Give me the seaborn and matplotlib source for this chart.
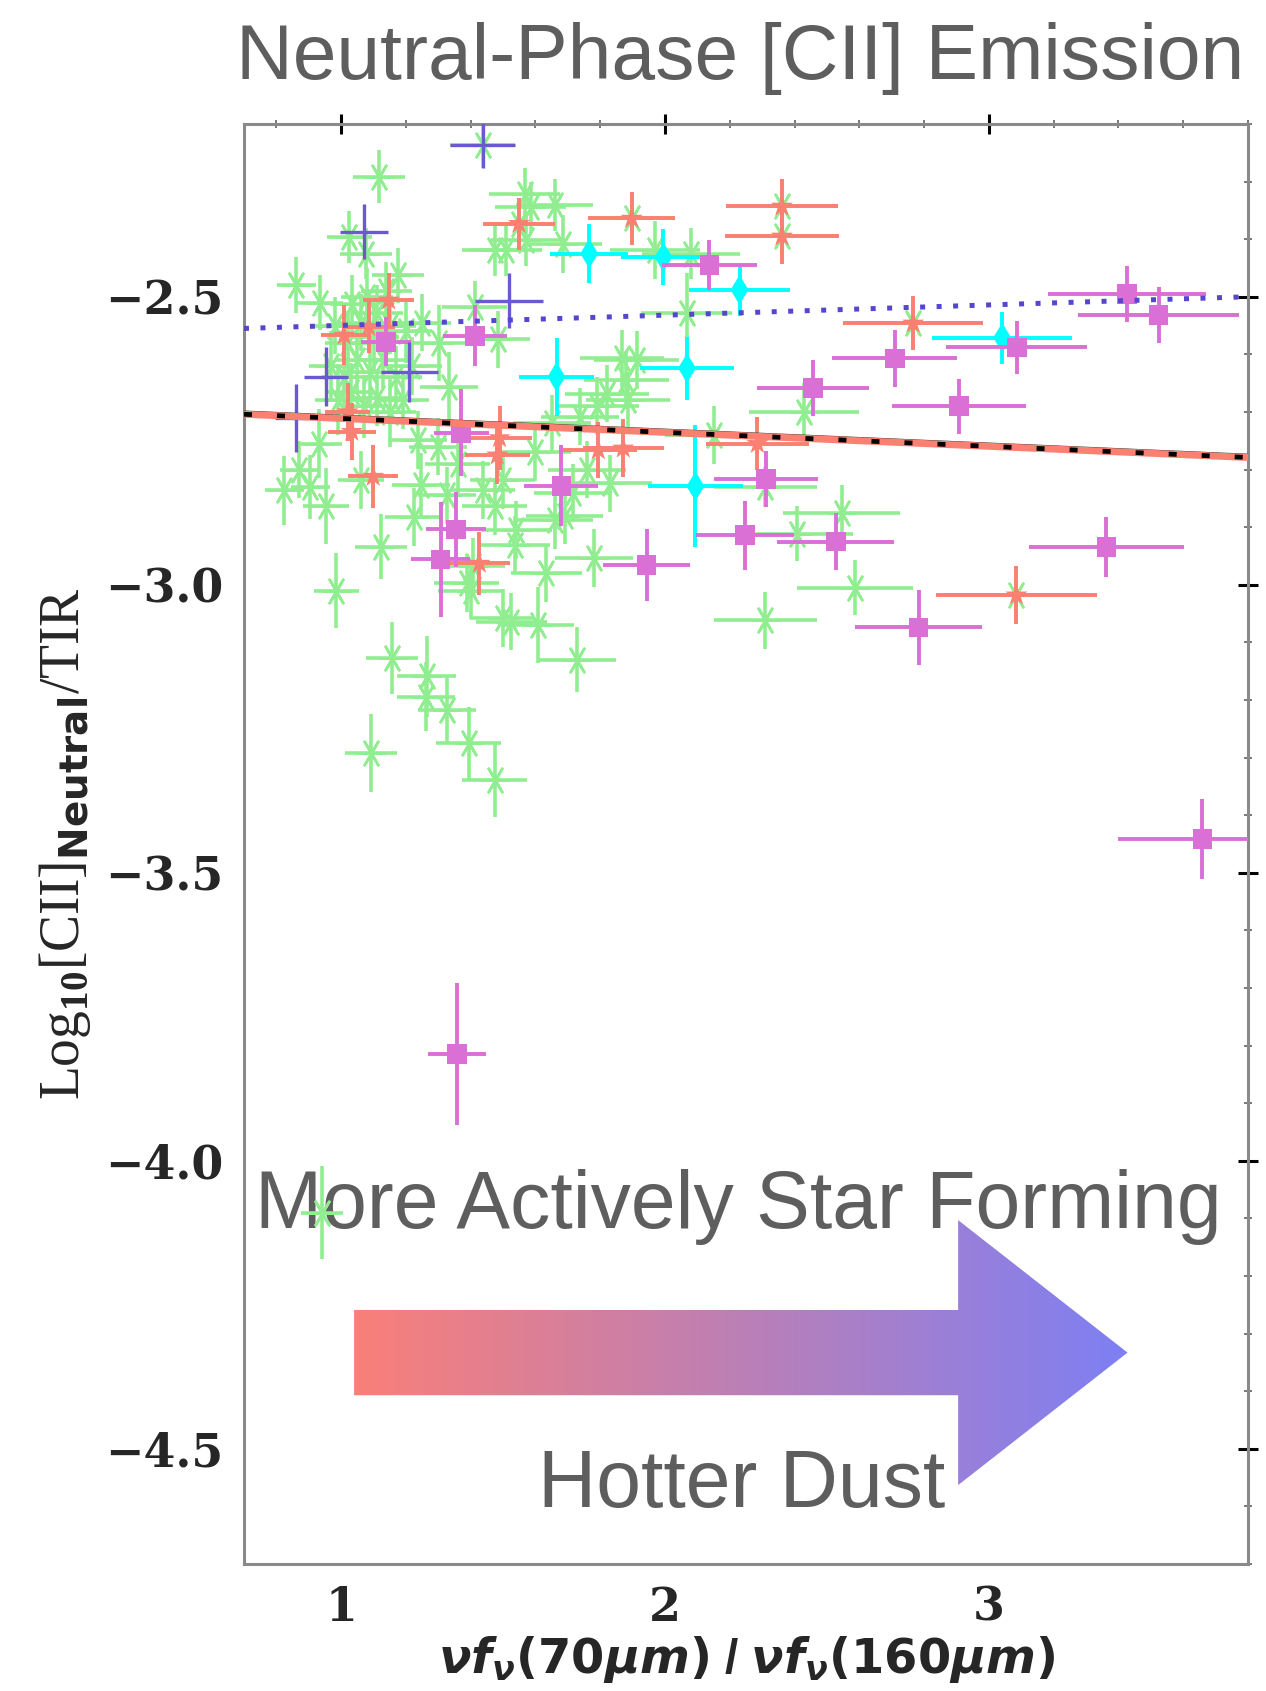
import numpy as np
import pandas as pd
import matplotlib
matplotlib.use("Agg")
import matplotlib.pyplot as plt
import seaborn as sns
from matplotlib.patches import Polygon
from matplotlib.colors import LinearSegmentedColormap
from matplotlib.ticker import MultipleLocator, FixedLocator, FixedFormatter

# ---------------------------------------------------------------- data
# Sample A (light green asterisks)
green_x = [1.116, 1.437, 0.862, 1.025, 1.076, 1.176, 0.935, 1.035, 1.112, 1.303, 1.412, 1.484, 1.567, 1.585,
           1.659, 1.474, 1.510, 1.572, 1.685, 1.549, 1.897, 2.361, 2.361, 1.969, 2.080, 2.067, 1.866, 1.912,
           1.881, 1.820, 1.886, 1.737, 1.790, 2.150, 2.430, 2.766, 2.310, 2.545, 2.409, 2.586, 2.310, 3.085, 0.941,
           0.98, 1.02, 1.06, 1.10, 1.15, 1.20, 1.25, 0.97, 1.01, 1.05, 1.09, 1.13, 1.17, 1.22, 0.99, 1.03,
           1.07, 1.11, 1.15, 1.19, 1.08, 1.14, 1.334,
           0.824, 0.870, 0.953, 0.932, 0.905, 1.123, 0.985, 1.226, 1.247, 1.236, 1.061, 1.157, 1.264, 1.262,
           1.326, 1.394, 1.474, 1.092, 1.388, 1.400, 1.499, 1.525, 1.608, 1.729, 1.634, 1.780, 1.536, 1.474,
           1.499, 1.830, 1.690, 1.437, 1.541, 1.716, 1.659, 1.407, 1.327, 1.30, 1.36, 1.60, 1.65, 1.76]
green_y = [-2.292, -2.237, -2.480, -2.396, -2.425, -2.463, -2.510, -2.512, -2.529, -2.581, -2.518, -2.574, -2.321, -2.345,
           -2.340, -2.419, -2.419, -2.402, -2.408, -2.373, -2.364, -2.343, -2.395, -2.419, -2.425, -2.529, -2.607, -2.610,
           -2.645, -2.668, -2.680, -2.708, -2.690, -2.740, -2.700, -2.546, -2.830, -2.875, -2.911, -3.005, -3.062, -3.018, -4.090,
           -2.55, -2.58, -2.545, -2.57, -2.55, -2.56, -2.545, -2.62, -2.64, -2.61, -2.63, -2.61, -2.64, -2.62, -2.68, -2.665,
           -2.69, -2.675, -2.70, -2.68, -2.50, -2.49, -2.656,
           -2.836, -2.800, -2.864, -2.755, -2.830, -2.934, -3.010, -2.882, -2.827, -2.749, -2.818, -3.127, -3.159, -3.194,
           -3.217, -3.275, -3.339, -3.292, -2.997, -3.010, -3.058, -3.064, -3.070, -3.130, -2.980, -2.954, -2.931, -2.864,
           -2.818, -2.824, -2.880, -2.835, -2.905, -2.841, -2.888, -2.968, -2.845, -2.76, -2.79, -2.77, -2.72, -2.80]
green_xerr = [0.08, 0.10, 0.06, 0.07, 0.08, 0.08, 0.07, 0.07, 0.08, 0.09, 0.10, 0.10, 0.11, 0.11,
              0.12, 0.10, 0.11, 0.11, 0.12, 0.11, 0.13, 0.17, 0.17, 0.14, 0.15, 0.14, 0.13, 0.13,
              0.13, 0.13, 0.13, 0.12, 0.13, 0.15, 0.17, 0.19, 0.16, 0.18, 0.17, 0.18, 0.16, 0.22, 0.065,
              0.07, 0.07, 0.07, 0.08, 0.08, 0.08, 0.09, 0.07, 0.07, 0.07, 0.08, 0.08, 0.08, 0.09, 0.07, 0.07,
              0.07, 0.08, 0.08, 0.08, 0.08, 0.08, 0.09,
              0.06, 0.06, 0.07, 0.07, 0.06, 0.08, 0.07, 0.09, 0.09, 0.09, 0.07, 0.08, 0.09, 0.09,
              0.09, 0.10, 0.10, 0.08, 0.10, 0.10, 0.10, 0.11, 0.11, 0.12, 0.11, 0.12, 0.11, 0.10,
              0.10, 0.13, 0.12, 0.10, 0.11, 0.12, 0.12, 0.10, 0.09, 0.09, 0.10, 0.11, 0.12, 0.12]
green_yerr = [0.046, 0.040, 0.049, 0.045, 0.045, 0.047, 0.048, 0.050, 0.050, 0.066, 0.045, 0.050, 0.045, 0.045,
              0.045, 0.045, 0.045, 0.045, 0.050, 0.045, 0.045, 0.047, 0.049, 0.050, 0.045, 0.070, 0.050, 0.050,
              0.050, 0.050, 0.050, 0.050, 0.050, 0.050, 0.050, 0.045, 0.035, 0.048, 0.048, 0.048, 0.050, 0.050, 0.081,
              0.050, 0.055, 0.050, 0.060, 0.050, 0.055, 0.050, 0.060, 0.050, 0.055, 0.060, 0.050, 0.055, 0.050,
              0.060, 0.050, 0.055, 0.050, 0.060, 0.050, 0.050, 0.050, 0.060,
              0.060, 0.050, 0.066, 0.060, 0.055, 0.056, 0.065, 0.050, 0.055, 0.050, 0.050, 0.062, 0.070, 0.060,
              0.060, 0.062, 0.064, 0.068, 0.050, 0.050, 0.050, 0.050, 0.066, 0.056, 0.050, 0.050, 0.050, 0.050,
              0.050, 0.050, 0.050, 0.050, 0.050, 0.050, 0.050, 0.050, 0.050, 0.050, 0.050, 0.050, 0.050, 0.050]

# Sample B (salmon stars)
salmon_x = [1.549, 1.897, 2.361, 2.361, 1.147, 1.085, 1.009, 2.766, 1.020, 1.033, 1.099, 1.489, 1.482,
            1.794, 1.871, 2.285, 3.085, 1.427]
salmon_y = [-2.373, -2.364, -2.343, -2.395, -2.506, -2.552, -2.567, -2.546, -2.700, -2.734, -2.812, -2.745, -2.775,
            -2.766, -2.763, -2.755, -3.018, -2.963]
salmon_xerr = [0.110, 0.134, 0.173, 0.176, 0.078, 0.080, 0.070, 0.215, 0.070, 0.075, 0.077, 0.100, 0.100,
               0.120, 0.125, 0.160, 0.248, 0.095]
salmon_yerr = [0.045, 0.046, 0.047, 0.049, 0.047, 0.045, 0.052, 0.047, 0.050, 0.050, 0.055, 0.055, 0.050,
               0.049, 0.050, 0.046, 0.050, 0.055]

# Sample C (cyan diamonds)
cyan_x = [1.766, 1.995, 2.230, 1.665, 2.068, 2.094, 3.041]
cyan_y = [-2.425, -2.431, -2.488, -2.639, -2.624, -2.829, -2.571]
cyan_xerr = [0.120, 0.130, 0.157, 0.117, 0.144, 0.147, 0.217]
cyan_yerr = [0.051, 0.049, 0.045, 0.068, 0.055, 0.106, 0.045]

# Sample D (orchid squares)
orchid_x = [2.137, 3.426, 3.524, 3.086, 2.710, 2.456, 2.907, 2.312, 1.138, 1.414, 1.371, 1.680, 1.355,
            1.307, 1.943, 2.247, 2.527, 3.363, 2.783, 3.659, 1.357]
orchid_y = [-2.445, -2.495, -2.532, -2.588, -2.607, -2.658, -2.690, -2.816, -2.578, -2.568, -2.736, -2.828, -2.904,
            -2.956, -2.966, -2.914, -2.925, -2.934, -3.074, -3.441, -3.815]
orchid_xerr = [0.147, 0.243, 0.248, 0.217, 0.193, 0.173, 0.206, 0.160, 0.078, 0.098, 0.085, 0.114, 0.093,
               0.090, 0.134, 0.150, 0.180, 0.238, 0.196, 0.260, 0.090]
orchid_yerr = [0.043, 0.048, 0.049, 0.046, 0.050, 0.049, 0.048, 0.049, 0.043, 0.053, 0.075, 0.070, 0.065,
               0.100, 0.062, 0.060, 0.050, 0.052, 0.065, 0.069, 0.123]

# Sample E (slate-blue crosses)
blue_x = [1.437, 1.071, 1.518, 0.953, 1.210, 0.860]
blue_y = [-2.237, -2.387, -2.507, -2.639, -2.630, -2.711]
blue_xerr = [0.100, 0.074, 0.106, 0.067, 0.088, 0.065]
blue_yerr = [0.040, 0.048, 0.048, 0.051, 0.052, 0.059]

# Linear fits (end points over the plotted range)
fit_x = [0.70, 3.80]
fit_blue_y = [-2.555, -2.500]
fit_all_y = [-2.704, -2.779]

# ---------------------------------------------------------------- style
sns.set_style("white")
plt.rcParams.update({
    "font.family": ["Liberation Sans", "DejaVu Sans"],
    "mathtext.fontset": "cm",
    "mathtext.rm": "Liberation Serif",
    "mathtext.it": "DejaVu Sans:italic:bold",
    "mathtext.bf": "Liberation Serif:bold",
    "mathtext.sf": "DejaVu Sans:bold",
})

frames = []
for name, xs, ys, xe, ye in [
    ("A", green_x, green_y, green_xerr, green_yerr),
    ("B", salmon_x, salmon_y, salmon_xerr, salmon_yerr),
    ("C", cyan_x, cyan_y, cyan_xerr, cyan_yerr),
    ("D", orchid_x, orchid_y, orchid_xerr, orchid_yerr),
    ("E", blue_x, blue_y, blue_xerr, blue_yerr),
]:
    frames.append(pd.DataFrame({"sample": name, "x": xs, "y": ys, "xerr": xe, "yerr": ye}))
df = pd.concat(frames, ignore_index=True)

styles = {
    "A": dict(color="#90EE90", marker=(6, 2, 90), s=380, lw=1.9, elw=2.6, z=2),
    "B": dict(color="#FA8072", marker="*", s=280, lw=0, elw=2.8, z=3),
    "C": dict(color="#00FFFF", marker="d", s=230, lw=0, elw=2.8, z=3.2),
    "D": dict(color="#DA70D6", marker="s", s=200, lw=0, elw=2.8, z=3.4),
    "E": dict(color="#6A5ACD", marker="+", s=120, lw=2.2, elw=2.4, z=3.6),
}

fig = plt.figure(figsize=(12.66, 16.91), dpi=100)
ax = fig.add_axes([0.1927, 0.0751, 0.7931, 0.8516])

for name, st in styles.items():
    sub = df[df["sample"] == name]
    ax.errorbar(sub["x"], sub["y"], xerr=sub["xerr"], yerr=sub["yerr"], fmt="none",
                ecolor=st["color"], elinewidth=st["elw"], capsize=0, zorder=st["z"])
    kw = dict(data=sub, x="x", y="y", marker=st["marker"], s=st["s"], color=st["color"],
              ax=ax, zorder=st["z"] + 0.05, legend=False)
    if st["lw"] > 0:
        kw["linewidth"] = st["lw"]
    else:
        kw["linewidth"] = 0
        kw["edgecolor"] = "none"
    sns.scatterplot(**kw)

# fit lines
sns.lineplot(x=fit_x, y=fit_blue_y, color="#5546CF", linewidth=3.6, linestyle=(0, (1, 2.3)),
             ax=ax, zorder=6, sort=False, estimator=None)
sns.lineplot(x=fit_x, y=[v + 0.005 for v in fit_all_y], color="#333333", linewidth=1.3,
             ax=ax, zorder=5.8, sort=False, estimator=None)
sns.lineplot(x=fit_x, y=fit_all_y, color="#FA8072", linewidth=5.0, ax=ax, zorder=5.9,
             sort=False, estimator=None)
sns.lineplot(x=fit_x, y=fit_all_y, color="black", linewidth=3.4, linestyle=(0, (1.7, 5.3)),
             ax=ax, zorder=6, sort=False, estimator=None)

# gradient arrow
arrow_pts = [(1.04, -4.259), (2.905, -4.259), (2.905, -4.103), (3.428, -4.333),
             (2.905, -4.563), (2.905, -4.407), (1.04, -4.407)]
poly = Polygon(arrow_pts, closed=True, facecolor="none", edgecolor="none", transform=ax.transData)
ax.add_patch(poly)
cmap = LinearSegmentedColormap.from_list("heat", ["#F97F79", "#7E80F3"])
grad = ax.imshow(np.linspace(0, 1, 256)[None, :], extent=[1.04, 3.428, -4.563, -4.103],
                 aspect="auto", origin="lower", cmap=cmap, zorder=1.5, interpolation="bicubic")
grad.set_clip_path(poly)

text_kw = dict(ha="center", va="baseline", fontsize=58, color="#5e5e5e", family="Liberation Sans", zorder=1.6)
ax.text(2.226, -4.116, "More Actively Star Forming", **text_kw)
ax.text(2.238, -4.601, "Hotter Dust", **text_kw)

ax.set_xlim(0.70, 3.80)
ax.set_ylim(-4.70, -2.20)

# axes, ticks and labels
xt = [1, 2, 3]
yt = [-4.5, -4.0, -3.5, -3.0, -2.5]
ax.xaxis.set_major_locator(FixedLocator(xt))
ax.xaxis.set_major_formatter(FixedFormatter(["%d" % v for v in xt]))
ax.yaxis.set_major_locator(FixedLocator(yt))
ax.yaxis.set_major_formatter(FixedFormatter(["\u2212%.1f" % abs(v) for v in yt]))
ax.xaxis.set_minor_locator(MultipleLocator(0.2))
ax.yaxis.set_minor_locator(MultipleLocator(0.1))
ax.tick_params(which="major", direction="inout", length=14, width=2.2, color="black",
               top=True, right=True, labelsize=33, pad=8)
ax.tick_params(which="minor", direction="inout", length=6, width=1.1, color="#555555",
               top=True, right=True)
for lbl in ax.get_xticklabels() + ax.get_yticklabels():
    lbl.set_fontfamily("DejaVu Serif")
    lbl.set_fontweight("bold")
for sp in ax.spines.values():
    sp.set_color("#8a8a8a")
    sp.set_linewidth(2.2)

ax.set_xlabel(r"$\nu f_{\nu}\mathsf{(70}\mu m\mathsf{)}$ / $\nu f_{\nu}\mathsf{(160}\mu m\mathsf{)}$",
              fontsize=34.5, fontweight="bold", math_fontfamily="custom")
ax.set_ylabel(r"$\mathrm{Log}_{\mathbf{10}}\mathrm{[CII]}_{\mathsf{Neutral}}\mathrm{/TIR}$",
              fontsize=40, math_fontfamily="custom")
ax.xaxis.set_label_coords(0.501, -0.0485)
ax.yaxis.set_label_coords(-0.150, 0.5)

fig.text(0.5845, 0.9531, "Neutral-Phase [CII] Emission", ha="center", va="baseline",
         fontsize=56.5, color="#5e5e5e", family="Liberation Sans")

fig.savefig("out.png", dpi=100)
